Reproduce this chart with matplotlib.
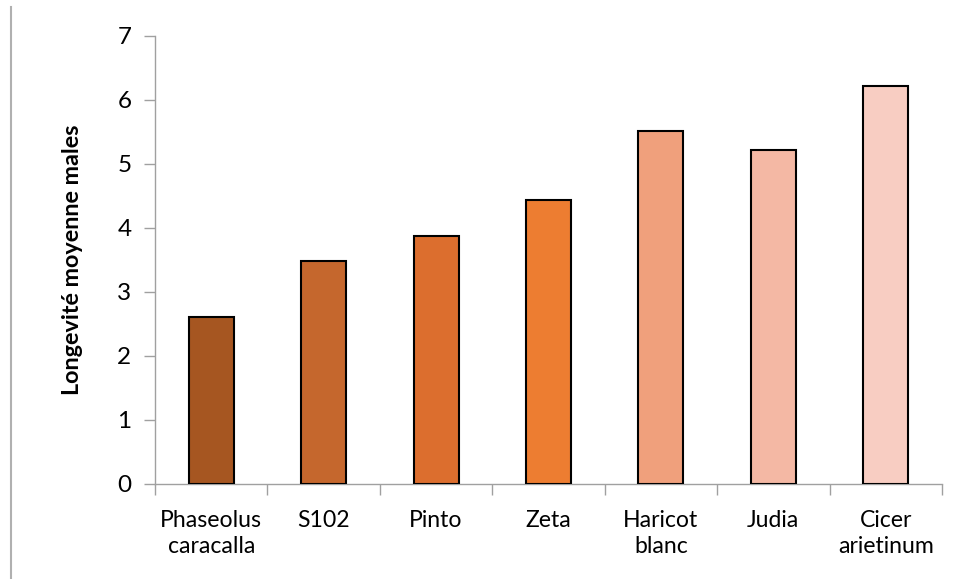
import matplotlib as mpl
import matplotlib.pyplot as plt
from matplotlib.lines import Line2D

# Mean male longevity per host seed
cultivars = ['Phaseolus\ncaracalla', 'S102', 'Pinto', 'Zeta', 'Haricot\nblanc', 'Judia', 'Cicer\narietinum']
longevity = [2.61, 3.48, 3.875, 4.44, 5.52, 5.22, 6.22]
bar_colors = ['#A65621', '#C5672D', '#DC6E2E', '#ED7D31', '#F0A07C', '#F4B8A4', '#F8CDC2']

mpl.rcParams['font.family'] = ['Lato', 'DejaVu Sans']

fig = plt.figure(figsize=(9.58, 5.79), dpi=100)
ax = fig.add_axes([155/958, 95/579, 787/958, 448/579])

x = list(range(len(cultivars)))
ax.bar(x, longevity, width=0.4, color=bar_colors, edgecolor='black', linewidth=1.5, zorder=3)

ax.set_xlim(-0.5, len(cultivars) - 0.5)
ax.set_ylim(0, 7)
ax.set_yticks(range(8))
ax.tick_params(axis='y', length=8, color='#A0A0A0', width=1, labelsize=17.5, pad=9)

# category labels centred, tick marks between categories
ax.set_xticks(x)
ax.set_xticklabels(cultivars, fontsize=16.6, linespacing=1.3)
ax.tick_params(axis='x', length=0, pad=19)
ax.set_xticks([i - 0.5 for i in range(len(cultivars) + 1)], minor=True)
ax.tick_params(axis='x', which='minor', length=8, color='#A0A0A0', width=1)

for side in ['top', 'right']:
    ax.spines[side].set_visible(False)
for side in ['left', 'bottom']:
    ax.spines[side].set_color('#A0A0A0')
    ax.spines[side].set_linewidth(1)

ax.set_ylabel('Longevité moyenne males', fontsize=16.8, fontweight='bold', labelpad=25)

# thin frame line on the left edge
fig.add_artist(Line2D([11/958, 11/958], [0, 572/579], color='#B0B0B0', linewidth=1.5))

fig.savefig('out.png', dpi=100)
